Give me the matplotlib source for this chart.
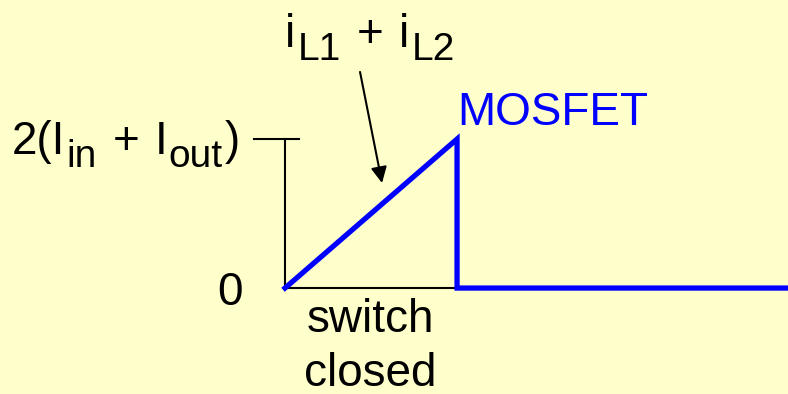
import matplotlib
matplotlib.use("Agg")
import matplotlib.pyplot as plt
from matplotlib.transforms import offset_copy

plt.rcParams["font.family"] = ["Liberation Sans", "DejaVu Sans"]

# MOSFET current over one cycle (time in units of switch-closed interval,
# current in units of 2(Iin + Iout))
t_on = 1.0
peak = 1.0
t_mosfet = [0.0, t_on, t_on, 3.0]
i_mosfet = [0.0, peak, 0.0, 0.0]

BG = "#FFFFCC"
BLUE = "#0000FF"
BIG = 33
SUB = 28


def rich_text(ax, x, y, pieces, color="black"):
    # pieces: (text, fontsize, baseline shift px, gap before px)
    fig = ax.figure
    renderer = fig.canvas.get_renderer()
    cursor = 0.0
    for s, size, dy, gap in pieces:
        cursor += gap
        tr = offset_copy(ax.transData, fig=fig, x=cursor, y=dy, units="dots")
        t = ax.text(x, y, s, fontsize=size, color=color, ha="left",
                    va="baseline", transform=tr)
        cursor += t.get_window_extent(renderer).width


fig = plt.figure(figsize=(7.88, 3.94), dpi=100, facecolor=BG)
ax = fig.add_axes([0, 0, 1, 1])
ax.set_facecolor(BG)
ax.set_xlim(-1.657, 2.924)
ax.set_ylim(-0.711, 1.933)
ax.axis("off")

# axes of the sketch
ax.plot([0, 0], [0, peak], color="black", lw=1.5)
ax.plot([-0.18, 0.08], [peak, peak], color="black", lw=1.5)
ax.plot([0, t_on], [0, 0], color="black", lw=1.5)

# MOSFET current
ax.plot(t_mosfet, i_mosfet, color=BLUE, lw=3.8, solid_joinstyle="miter",
        clip_on=True)

# arrow to the ramp
ax.annotate("", xy=(0.564, 0.705), xytext=(0.436, 1.450),
            arrowprops=dict(arrowstyle="-|>", color="black", lw=1.5,
                            mutation_scale=24, shrinkA=0, shrinkB=0))

fig.canvas.draw()

rich_text(ax, -1.587, 0.899, [
    ("2(I", BIG, 0, 0),
    ("in", SUB, -13, 1),
    ("+", BIG, 0, 16),
    ("I", BIG, 0, 15),
    ("out", SUB, -13, 1),
    (")", BIG, 0, 2),
])

rich_text(ax, 0.0, 1.617, [
    ("i", BIG, 0, 0),
    ("L1", SUB, -13, 2),
    ("+", BIG, 0, 16),
    ("i", BIG, 0, 16),
    ("L2", SUB, -13, 2),
])

ax.text(-0.244, -0.114, "0", fontsize=BIG, ha="right", va="baseline")
ax.text(0.494, -0.295, "switch", fontsize=BIG, ha="center", va="baseline")
ax.text(0.494, -0.660, "closed", fontsize=BIG, ha="center", va="baseline")
ax.text(1.0, 1.094, "MOSFET", fontsize=BIG, color=BLUE, ha="left",
        va="baseline")

plt.savefig("out.png", dpi=100, facecolor=BG)
